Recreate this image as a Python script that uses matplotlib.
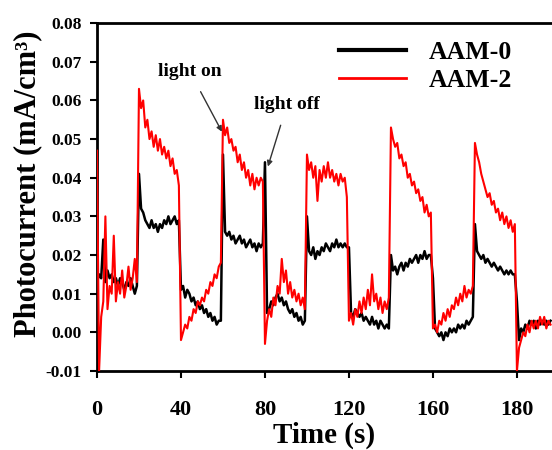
"""Transient photocurrent of AAM-0 / AAM-2 under chopped light."""
import numpy as np
import matplotlib
matplotlib.use("Agg")
import matplotlib.pyplot as plt
from matplotlib.lines import Line2D

plt.rcParams["font.family"] = ["Liberation Serif", "DejaVu Serif"]
plt.rcParams["font.weight"] = "bold"

# sampling grid (s), 1 s per point
time_s = np.arange(0, 217)

# AAM-0 photocurrent (mA/cm3)
aam0 = [
    # 0-19 off
    0.013, 0.015, 0.014, 0.024, 0.013, 0.016, 0.014, 0.015, 0.013, 0.014,
    0.012, 0.014, 0.013, 0.011, 0.013, 0.012, 0.014, 0.012, 0.010, 0.012,
    # 20-39 on
    0.041, 0.032, 0.031, 0.029, 0.028, 0.027, 0.029, 0.027, 0.028, 0.026,
    0.028, 0.027, 0.029, 0.028, 0.030, 0.028, 0.029, 0.030, 0.028, 0.029,
    # 40-59 off
    0.011, 0.012, 0.009, 0.011, 0.010, 0.008, 0.009, 0.007, 0.008, 0.006,
    0.007, 0.005, 0.006, 0.004, 0.005, 0.003, 0.004, 0.002, 0.003, 0.003,
    # 60-79 on
    0.046, 0.026, 0.025, 0.026, 0.024, 0.025, 0.023, 0.024, 0.025, 0.023,
    0.024, 0.022, 0.023, 0.024, 0.022, 0.023, 0.021, 0.023, 0.022, 0.023,
    # 80-99 off
    0.044, 0.005, 0.006, 0.008, 0.007, 0.009, 0.010, 0.008, 0.009, 0.007,
    0.008, 0.006, 0.005, 0.006, 0.004, 0.005, 0.003, 0.004, 0.002, 0.003,
    # 100-119 on
    0.030, 0.021, 0.020, 0.022, 0.019, 0.021, 0.020, 0.022, 0.021, 0.023,
    0.022, 0.021, 0.023, 0.022, 0.024, 0.022, 0.023, 0.022, 0.023, 0.022,
    # 120-139 off
    0.022, 0.005, 0.004, 0.006, 0.005, 0.004, 0.005, 0.003, 0.004, 0.003,
    0.002, 0.004, 0.002, 0.003, 0.001, 0.003, 0.002, 0.001, 0.002, 0.001,
    # 140-159 on
    0.020, 0.016, 0.017, 0.015, 0.017, 0.018, 0.016, 0.018, 0.017, 0.019,
    0.018, 0.019, 0.020, 0.018, 0.020, 0.019, 0.021, 0.019, 0.020, 0.020,
    # 160-179 off
    0.014, 0.001, 0.000, -0.001, 0.000, -0.002, 0.000, -0.001, 0.001, 0.000,
    0.001, 0.000, 0.002, 0.001, 0.002, 0.001, 0.003, 0.002, 0.003, 0.004,
    # 180-199 on
    0.028, 0.021, 0.020, 0.019, 0.020, 0.018, 0.019, 0.018, 0.017, 0.018,
    0.017, 0.016, 0.017, 0.016, 0.015, 0.016, 0.015, 0.016, 0.015, 0.015,
    # 200-216 off
    0.008, -0.002, 0.001, 0.000, 0.002, 0.001, 0.003, 0.002, 0.003, 0.001,
    0.003, 0.002, 0.003, 0.002, 0.003, 0.002, 0.003,
]

# AAM-2 photocurrent (mA/cm3)
aam2 = [
    # 0-19 off
    0.047, -0.010, 0.004, 0.008, 0.030, 0.006, 0.012, 0.010, 0.025, 0.008,
    0.013, 0.010, 0.016, 0.009, 0.012, 0.017, 0.011, 0.014, 0.019, 0.013,
    # 20-39 on
    0.063, 0.058, 0.060, 0.053, 0.055, 0.050, 0.052, 0.048, 0.051, 0.047,
    0.050, 0.046, 0.048, 0.045, 0.047, 0.043, 0.045, 0.041, 0.042, 0.038,
    # 40-59 off
    -0.002, 0.000, 0.002, 0.001, 0.004, 0.003, 0.006, 0.005, 0.008, 0.007,
    0.009, 0.008, 0.011, 0.010, 0.013, 0.012, 0.015, 0.014, 0.017, 0.018,
    # 60-79 on
    0.055, 0.051, 0.053, 0.049, 0.050, 0.047, 0.048, 0.044, 0.046, 0.042,
    0.044, 0.040, 0.042, 0.038, 0.041, 0.037, 0.040, 0.038, 0.040, 0.039,
    # 80-99 off
    -0.003, 0.003, 0.006, 0.004, 0.009, 0.007, 0.012, 0.010, 0.019, 0.013,
    0.016, 0.010, 0.013, 0.009, 0.011, 0.008, 0.010, 0.007, 0.009, 0.006,
    # 100-119 on
    0.046, 0.042, 0.044, 0.040, 0.043, 0.034, 0.042, 0.039, 0.043, 0.040,
    0.044, 0.040, 0.042, 0.039, 0.041, 0.038, 0.041, 0.039, 0.040, 0.035,
    # 120-139 off
    0.003, 0.005, 0.002, 0.006, 0.004, 0.008, 0.005, 0.009, 0.006, 0.011,
    0.007, 0.015, 0.008, 0.010, 0.006, 0.009, 0.005, 0.008, 0.006, 0.009,
    # 140-159 on
    0.053, 0.050, 0.048, 0.049, 0.045, 0.046, 0.043, 0.044, 0.040, 0.041,
    0.038, 0.039, 0.036, 0.037, 0.034, 0.035, 0.031, 0.033, 0.030, 0.031,
    # 160-179 off
    0.001, 0.002, 0.000, 0.003, 0.002, 0.005, 0.003, 0.006, 0.004, 0.007,
    0.006, 0.009, 0.007, 0.010, 0.008, 0.012, 0.009, 0.011, 0.010, 0.012,
    # 180-199 on
    0.049, 0.046, 0.044, 0.041, 0.039, 0.037, 0.035, 0.036, 0.033, 0.034,
    0.031, 0.032, 0.029, 0.031, 0.028, 0.030, 0.027, 0.029, 0.026, 0.028,
    # 200-216 off
    -0.010, -0.004, -0.002, 0.000, -0.001, 0.002, 0.000, 0.003, 0.001, 0.003,
    0.001, 0.004, 0.002, 0.004, 0.001, 0.003, 0.002,
]

x_ticks = [0, 40, 80, 120, 160, 200]
x_tick_labels = ["0", "40", "80", "120", "160", "180"]
y_ticks = [-0.01, 0.00, 0.01, 0.02, 0.03, 0.04, 0.05, 0.06, 0.07, 0.08]

fig = plt.figure(figsize=(5.52, 4.5), dpi=100)
ax = fig.add_axes([0.1757, 0.1756, 0.8243, 0.773])

ax.plot(time_s, aam0, color="black", lw=1.8, zorder=2)
ax.plot(time_s, aam2, color="#ff0000", lw=1.5, zorder=3)

ax.set_xlim(0, 216.7)
ax.set_ylim(-0.01, 0.08)
ax.set_xticks(x_ticks)
ax.set_xticklabels(x_tick_labels)
ax.set_yticks(y_ticks)
ax.set_yticklabels([f"{v:.2f}" for v in y_ticks])
ax.tick_params(axis="x", labelsize=16, direction="out", length=5, width=1.5, pad=16)
ax.tick_params(axis="y", labelsize=12.5, direction="out", length=5, width=1.5, pad=6)

for side in ["left", "bottom", "top"]:
    ax.spines[side].set_linewidth(2)
ax.spines["right"].set_visible(False)

ax.set_xlabel("Time (s)", fontsize=21, fontweight="bold", labelpad=1)
ax.set_ylabel("Photocurrent (mA/cm³)", fontsize=22, fontweight="bold")
ax.yaxis.set_label_coords(-0.12, 0.537)

handles = [Line2D([], [], color="black", lw=3),
           Line2D([], [], color="#ff0000", lw=2)]
fig.legend(handles, ["AAM-0", "AAM-2"], loc="upper right",
           bbox_to_anchor=(0.961, 0.949), frameon=False, fontsize=18.5,
           handlelength=2.6, handletextpad=0.9, labelspacing=0.2,
           borderpad=0.2)

ax.annotate("light on", xy=(59.5, 0.0519), xytext=(44.3, 0.0674),
            ha="center", va="center", fontsize=14, fontweight="bold",
            arrowprops=dict(arrowstyle="-|>", color="#333333", lw=1,
                            shrinkA=7, shrinkB=0, mutation_scale=8))
ax.annotate("light off", xy=(81.4, 0.0429), xytext=(90.5, 0.0589),
            ha="center", va="center", fontsize=14, fontweight="bold",
            arrowprops=dict(arrowstyle="-|>", color="#333333", lw=1,
                            shrinkA=7, shrinkB=0, mutation_scale=8))

fig.savefig("out.png", dpi=100)
